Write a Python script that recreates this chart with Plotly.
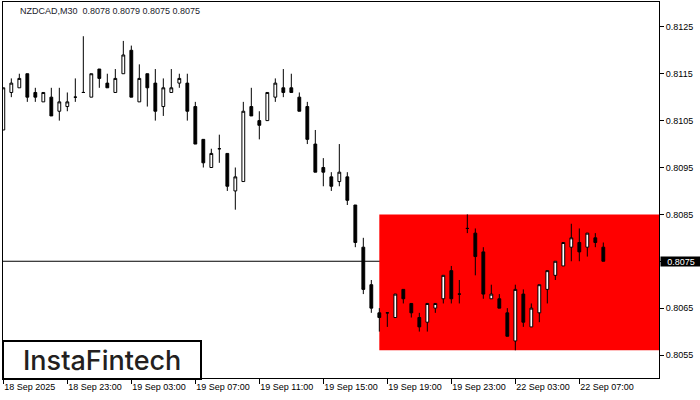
import plotly.graph_objects as go

# ---- data (NZDCAD M30) ----
bar_index = list(range(76))
open_ = [0.8103, 0.8111, 0.8112, 0.8115, 0.8111, 0.8109, 0.8110, 0.8107, 0.8108, 0.8110,
         0.8111, 0.8110, 0.8116, 0.8113, 0.8111, 0.8115, 0.8120, 0.8109, 0.8115, 0.8113,
         0.8108, 0.8111, 0.8113, 0.8113, 0.8108, 0.8101, 0.8095, 0.8099, 0.8098, 0.8090,
         0.8092, 0.8108, 0.8105, 0.8105, 0.8110, 0.8112, 0.8112, 0.8110, 0.8108, 0.8100,
         0.8095, 0.8093, 0.8092, 0.8093, 0.8087, 0.8078, 0.8070, 0.8064, 0.8064, 0.8063,
         0.8069, 0.8066, 0.8063, 0.8062, 0.8065, 0.8067, 0.8073, 0.8068, 0.8082, 0.8081,
         0.8077, 0.8067, 0.8067, 0.8064, 0.8058, 0.8068, 0.8061, 0.8064, 0.8069, 0.8072,
         0.8074, 0.8078, 0.8079, 0.8078, 0.8080, 0.8078]
high = [0.8112, 0.8114, 0.8115, 0.8115, 0.8112, 0.8111, 0.8112, 0.8112, 0.8111, 0.8114,
        0.8123, 0.8115, 0.8116, 0.8115, 0.8116, 0.8122, 0.8121, 0.8117, 0.8115, 0.8116,
        0.8114, 0.8116, 0.8115, 0.8115, 0.8109, 0.8101, 0.8099, 0.8102, 0.8098, 0.8095,
        0.8109, 0.8112, 0.8107, 0.8111, 0.8114, 0.8116, 0.8115, 0.8111, 0.8109, 0.8103,
        0.8097, 0.8094, 0.8100, 0.8094, 0.8087, 0.8080, 0.8071, 0.8065, 0.8064, 0.8068,
        0.8069, 0.8066, 0.8064, 0.8066, 0.8066, 0.8072, 0.8074, 0.8071, 0.8085, 0.8082,
        0.8078, 0.8070, 0.8068, 0.8065, 0.8070, 0.8069, 0.8066, 0.8070, 0.8073, 0.8075,
        0.8079, 0.8083, 0.8082, 0.8081, 0.8081, 0.8079]
low = [0.8103, 0.8110, 0.8112, 0.8109, 0.8109, 0.8109, 0.8106, 0.8105, 0.8107, 0.8109,
       0.8111, 0.8110, 0.8112, 0.8112, 0.8111, 0.8115, 0.8110, 0.8109, 0.8108, 0.8105,
       0.8106, 0.8111, 0.8112, 0.8105, 0.8100, 0.8095, 0.8095, 0.8096, 0.8090, 0.8086,
       0.8092, 0.8106, 0.8101, 0.8105, 0.8109, 0.8110, 0.8111, 0.8107, 0.8100, 0.8094,
       0.8091, 0.8090, 0.8091, 0.8087, 0.8078, 0.8068, 0.8064, 0.8060, 0.8061, 0.8063,
       0.8066, 0.8063, 0.8060, 0.8060, 0.8064, 0.8066, 0.8066, 0.8066, 0.8081, 0.8072,
       0.8067, 0.8067, 0.8065, 0.8059, 0.8056, 0.8061, 0.8061, 0.8062, 0.8066, 0.8071,
       0.8074, 0.8075, 0.8075, 0.8076, 0.8078, 0.8075]
close = [0.8112, 0.8113, 0.8114, 0.8110, 0.8110, 0.8111, 0.8106, 0.8109, 0.8109, 0.8110,
         0.8111, 0.8115, 0.8114, 0.8112, 0.8114, 0.8119, 0.8110, 0.8114, 0.8112, 0.8107,
         0.8112, 0.8112, 0.8114, 0.8107, 0.8100, 0.8096, 0.8098, 0.8099, 0.8091, 0.8093,
         0.8107, 0.8106, 0.8104, 0.8111, 0.8113, 0.8111, 0.8111, 0.8107, 0.8101, 0.8094,
         0.8094, 0.8091, 0.8094, 0.8088, 0.8079, 0.8069, 0.8065, 0.8063, 0.8064, 0.8068,
         0.8067, 0.8064, 0.8061, 0.8066, 0.8066, 0.8072, 0.8067, 0.8068, 0.8082, 0.8076,
         0.8068, 0.8068, 0.8065, 0.8059, 0.8069, 0.8062, 0.8065, 0.8070, 0.8073, 0.8075,
         0.8079, 0.8080, 0.8077, 0.8081, 0.8079, 0.8075]

time_tick_index = [0, 8, 16, 24, 32, 40, 48, 56, 64, 72]
time_tick_labels = ["18 Sep 2025", "18 Sep 23:00", "19 Sep 03:00", "19 Sep 07:00",
                    "19 Sep 11:00", "19 Sep 15:00", "19 Sep 19:00", "19 Sep 23:00",
                    "22 Sep 03:00", "22 Sep 07:00"]
price_ticks = [0.8055, 0.8065, 0.8075, 0.8085, 0.8095, 0.8105, 0.8115, 0.8125]

pattern_start = 47
pattern_top = 0.8085
pattern_bottom = 0.8056
last_price = close[-1]
title_text = "NZDCAD,M30  %.4f %.4f %.4f %.4f" % (open_[-1], high[-1], low[-1], close[-1])

x_range = [-0.04, 81.96]
y_range = [0.80501, 0.81303]

FONT = "Liberation Sans"

fig = go.Figure()
fig.add_trace(go.Candlestick(
    x=bar_index, open=open_, high=high, low=low, close=close,
    increasing=dict(line=dict(color="black", width=1), fillcolor="white"),
    decreasing=dict(line=dict(color="black", width=1), fillcolor="black"),
    whiskerwidth=0, showlegend=False, hoverinfo="skip",
))

# pattern rectangle
fig.add_shape(type="rect", xref="x", yref="y", x0=pattern_start, x1=x_range[1],
              y0=pattern_bottom, y1=pattern_top, fillcolor="#ff0000",
              line=dict(width=0), layer="below")
# current price line
fig.add_shape(type="line", xref="paper", yref="y", x0=0, x1=1,
              y0=last_price, y1=last_price, line=dict(color="black", width=1),
              layer="below")

# current price label
fig.add_annotation(x=1, xref="paper", y=last_price, yref="y", xanchor="left",
                   yanchor="middle", text="%.4f" % last_price, showarrow=False,
                   bgcolor="black", font=dict(family=FONT, size=9, color="white"),
                   width=38, height=7, borderpad=1, align="center", xshift=1)

# title
fig.add_annotation(x=(18 - 3) / 656, xref="paper", y=(378 - 10.5) / 376, yref="paper",
                   xanchor="left", yanchor="middle", text=title_text, showarrow=False,
                   font=dict(family=FONT, size=9, color="#1a1a2a"))

# logo
fig.add_shape(type="rect", xref="paper", yref="paper",
              x0=0, x1=(201 - 3) / 656, y0=(378 - 379) / 376, y1=(378 - 341) / 376,
              fillcolor="white", line=dict(color="black", width=2), layer="above")
fig.add_annotation(x=(102 - 3) / 656, xref="paper", y=(378 - 360) / 376, yref="paper",
                   xanchor="center", yanchor="middle", text="InstaFintech", showarrow=False,
                   font=dict(family="Inter", size=27, color="#231f20", weight=500))

fig.update_layout(
    width=700, height=400,
    margin=dict(l=3, r=41, t=2, b=22),
    paper_bgcolor="white", plot_bgcolor="white",
    boxgap=0.5,
    showlegend=False,
    xaxis=dict(range=x_range, rangeslider=dict(visible=False), showgrid=False,
               zeroline=False, showline=True, mirror=True, linecolor="black",
               linewidth=1, ticks="outside", ticklen=5, tickcolor="black",
               tickvals=time_tick_index, ticktext=time_tick_labels,
               ticklabelposition="outside right",
               tickfont=dict(family=FONT, size=9, color="black")),
    yaxis=dict(range=y_range, side="right", showgrid=False, zeroline=False,
               showline=True, mirror=True, linecolor="black", linewidth=1,
               ticks="outside", ticklen=4, tickcolor="black",
               tickvals=price_ticks, ticktext=["%.4f" % v for v in price_ticks],
               tickfont=dict(family=FONT, size=9, color="black")),
)

fig.write_html("out.html", config={"displayModeBar": False},
               post_script="document.body.style.margin='0';document.body.style.padding='0';")
